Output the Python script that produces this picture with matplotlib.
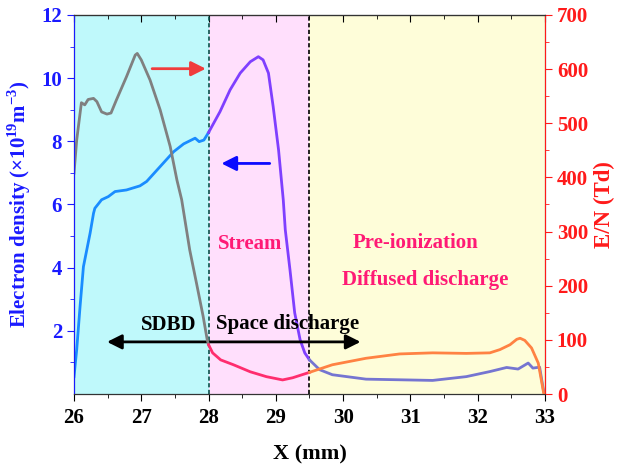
import numpy as np
import matplotlib.pyplot as plt

plt.rcParams['font.family'] = ['Liberation Serif', 'DejaVu Serif']
plt.rcParams['font.weight'] = 'bold'
plt.rcParams['mathtext.fontset'] = 'custom'
plt.rcParams['mathtext.rm'] = 'Liberation Serif:bold'
plt.rcParams['mathtext.bf'] = 'Liberation Serif:bold'

# Electron density (x10^19 m^-3), left axis
x_sdbd_ne = [26.0, 26.04, 26.09, 26.14, 26.24, 26.29, 26.31, 26.41, 26.51, 26.61, 26.78,
             26.98, 27.08, 27.28, 27.48, 27.63, 27.80, 27.86, 27.93, 28.0]
ne_sdbd = [0.55, 1.4, 2.77, 4.03, 5.1, 5.72, 5.88, 6.15, 6.25, 6.41, 6.46,
           6.59, 6.73, 7.2, 7.67, 7.92, 8.1, 7.99, 8.04, 8.28]

x_stream_ne = [28.0, 28.17, 28.32, 28.47, 28.62, 28.74, 28.81, 28.89, 28.96, 29.04, 29.11,
               29.14, 29.21, 29.28, 29.36, 29.43, 29.5]
ne_stream = [8.28, 8.94, 9.63, 10.16, 10.52, 10.68, 10.58, 10.16, 9.1, 7.73, 6.15,
             5.2, 3.93, 2.57, 1.72, 1.3, 1.08]

x_diff_ne = [29.5, 29.65, 29.84, 30.34, 30.84, 31.33, 31.83, 32.18, 32.43, 32.6, 32.75,
             32.82, 32.92, 32.98]
ne_diff = [1.08, 0.77, 0.61, 0.47, 0.45, 0.43, 0.55, 0.71, 0.84, 0.79, 0.98,
           0.82, 0.85, 0.08]

# Reduced field E/N (Td), right axis
x_sdbd_en = [26.0, 26.04, 26.11, 26.16, 26.21, 26.29, 26.34, 26.41, 26.49, 26.55, 26.63,
             26.78, 26.91, 26.94, 27.0, 27.13, 27.28, 27.43, 27.53, 27.6,
             27.72, 27.82, 27.92, 27.98, 28.0]
en_sdbd = [408, 469, 538, 534, 544, 546, 540, 521, 517, 519, 543,
           586, 626, 629, 617, 580, 525, 457, 395, 359,
           266, 205, 143, 100, 91]

x_stream_en = [28.0, 28.06, 28.18, 28.37, 28.62, 28.86, 29.1, 29.25, 29.5]
en_stream = [91, 76, 63, 54, 41, 32, 26, 30, 40]

x_diff_en = [29.5, 29.84, 30.34, 30.84, 31.33, 31.83, 32.18, 32.33, 32.48, 32.58, 32.63,
             32.70, 32.80, 32.90, 32.98]
en_diff = [40, 54, 66, 74, 76, 75, 76, 82, 91, 101, 103,
           99, 85, 57, 2]

fig = plt.figure(figsize=(6.18, 4.69), dpi=100)
ax = fig.add_axes([74 / 618, 1 - 394 / 469, 471 / 618, 379 / 469])
ax2 = ax.twinx()

# background regions
ax.axvspan(26, 28, color='#bff9fb', zorder=0, lw=0)
ax.axvspan(28, 29.5, color='#ffdffc', zorder=0, lw=0)
ax.axvspan(29.5, 33, color='#fefdd9', zorder=0, lw=0)
ax.axvline(28, color='#0b4f4a', ls=(0, (2.5, 1.5)), lw=1.2)
ax.axvline(29.5, color='black', ls=(0, (2.5, 1.5)), lw=1.2)

ax.plot(x_sdbd_ne, ne_sdbd, color='#1a8cff', lw=2)
ax.plot(x_stream_ne, ne_stream, color='#7f3fff', lw=2)
ax.plot(x_diff_ne, ne_diff, color='#7575d1', lw=2)

ax2.plot(x_sdbd_en, en_sdbd, color='#808080', lw=2)
ax2.plot(x_stream_en, en_stream, color='#ff2d6e', lw=2)
ax2.plot(x_diff_en, en_diff, color='#ff8243', lw=2)

ax.set_xlim(26, 33)
ax.set_ylim(0, 12)
ax2.set_ylim(0, 700)
ax.set_xticks(range(26, 34))
ax.set_xticks(np.arange(26.5, 33, 1), minor=True)
ax.set_yticks([2, 4, 6, 8, 10, 12])
ax.set_yticks([1, 3, 5, 7, 9, 11], minor=True)
ax2.set_yticks(range(0, 701, 100))
ax2.set_yticks(range(50, 700, 100), minor=True)

ax.tick_params(axis='x', which='both', direction='out', top=False, labelsize=15, colors='black', pad=5)
ax.tick_params(axis='x', which='major', length=5)
ax.tick_params(axis='x', which='minor', length=3)
ax.tick_params(axis='y', which='both', colors='#1a1aff', labelsize=15)
ax.tick_params(axis='y', which='major', length=5)
ax.tick_params(axis='y', which='minor', length=3)
ax2.tick_params(axis='y', which='both', colors='#ff1a1a', labelsize=15)
ax2.tick_params(axis='y', which='major', length=5)
ax2.tick_params(axis='y', which='minor', length=3)

# inward ticks on top
axt = ax.secondary_xaxis('top')
axt.set_xticks(range(26, 34))
axt.set_xticks(np.arange(26.5, 33, 1), minor=True)
axt.tick_params(which='both', direction='in', labeltop=False)
axt.tick_params(which='major', length=5)
axt.tick_params(which='minor', length=3)
axt.spines['top'].set_color('#333333')

ax2.spines['left'].set_color('#1a1aff')
ax2.spines['right'].set_color('#ff1a1a')
ax2.spines['top'].set_color('#333333')
ax2.spines['bottom'].set_color('#333333')

ax.set_xlabel('X (mm)', fontsize=16, fontweight='bold', labelpad=12)
ax.set_ylabel(r'Electron density ($\times$10$^{19}$m$^{-3}$)', fontsize=15,
              fontweight='bold', color='#1a1aff', labelpad=6)
ax2.set_ylabel('E/N (Td)', fontsize=16.5, fontweight='bold', color='#ff1a1a', labelpad=4)

# arrows
ax.annotate('', xy=(28.0, 10.3), xytext=(27.12, 10.3),
            arrowprops=dict(arrowstyle='-|>', color='#f03c3c', lw=2, mutation_scale=22))
ax.annotate('', xy=(28.15, 7.3), xytext=(28.95, 7.3),
            arrowprops=dict(arrowstyle='-|>', color='#0a0aff', lw=2, mutation_scale=22))
ax.annotate('', xy=(26.45, 1.65), xytext=(30.3, 1.65),
            arrowprops=dict(arrowstyle='<|-|>', color='black', lw=2, mutation_scale=22))

ax2.text(28.14, 700 * (394 - 244) / 379, 'Stream', color='#ff1a75', fontsize=15,
         fontweight='bold', ha='left', va='center')
ax2.text(31.08, 700 * (394 - 243) / 379, 'Pre-ionization', color='#ff1a75', fontsize=15,
         fontweight='bold', ha='center', va='center')
ax2.text(31.22, 700 * (394 - 280) / 379, 'Diffused discharge', color='#ff1a75', fontsize=15,
         fontweight='bold', ha='center', va='center')
ax2.text(27.41, 700 * (394 - 325) / 379, 'SDBD', color='black', fontsize=15,
         fontweight='bold', ha='center', va='center')
ax2.text(29.18, 700 * (394 - 324) / 379, 'Space discharge', color='black', fontsize=15,
         fontweight='bold', ha='center', va='center')

fig.savefig('out.png', dpi=100)
